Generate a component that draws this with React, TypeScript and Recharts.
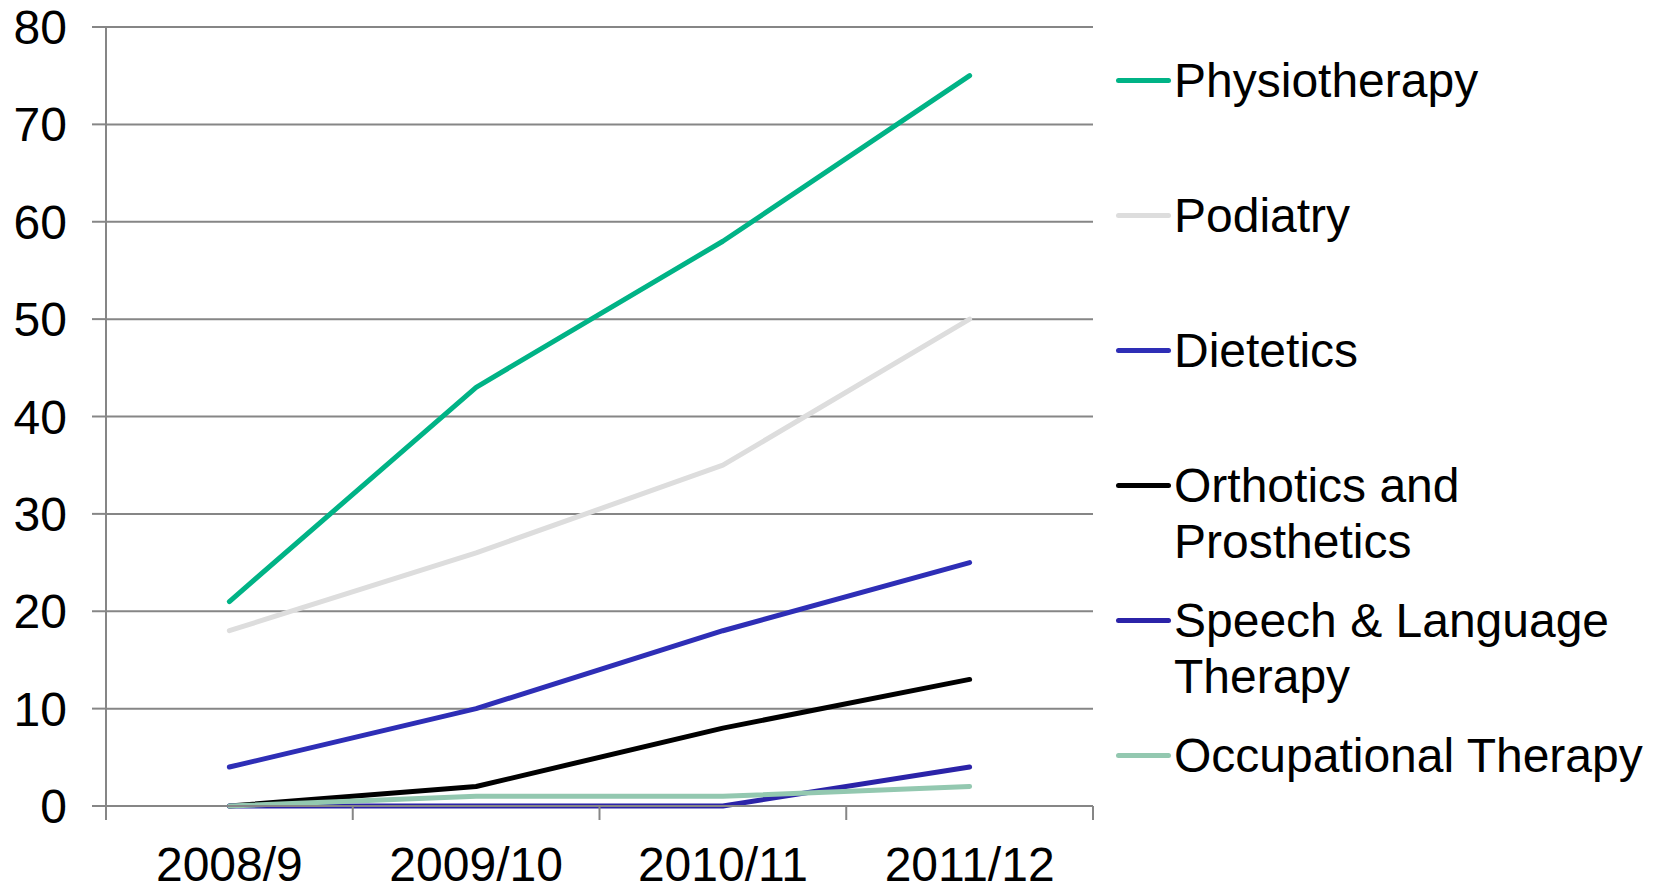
import { LineChart, Line, XAxis, YAxis, CartesianGrid, Legend } from 'recharts'

const years = ['2008/9', '2009/10', '2010/11', '2011/12']
const physiotherapy = [21, 43, 58, 75]
const podiatry = [18, 26, 35, 50]
const dietetics = [4, 10, 18, 25]
const orthotics = [0, 2, 8, 13]
const speechLanguage = [0, 0, 0, 4]
const occupational = [0, 1, 1, 2]
const yTicks = [0, 10, 20, 30, 40, 50, 60, 70, 80]

const series = [
  { key: 'physio', name: 'Physiotherapy', color: '#00b386', values: physiotherapy },
  { key: 'podiatry', name: 'Podiatry', color: '#dddddd', values: podiatry },
  { key: 'dietetics', name: 'Dietetics', color: '#2e2eb6', values: dietetics },
  { key: 'orthotics', name: 'Orthotics and Prosthetics', color: '#000000', values: orthotics },
  { key: 'speech', name: 'Speech & Language Therapy', color: '#2b23a8', values: speechLanguage },
  { key: 'occupational', name: 'Occupational Therapy', color: '#93c8b0', values: occupational },
]

const data = years.map((year, i) => {
  const row: Record<string, string | number> = { year }
  series.forEach((s) => {
    row[s.key] = s.values[i]
  })
  return row
})

const FONT = '"Liberation Sans", Arial, sans-serif'
const FONT_SIZE = 48
const GRID = '#868686'
const PLOT_LEFT = 106
const PLOT_RIGHT = 1093
const HALF_BAND = (PLOT_RIGHT - PLOT_LEFT) / years.length / 2

function YearTick(props: any) {
  const { x, y, payload, index } = props
  const axisY = y - 41
  return (
    <g>
      <line x1={x - HALF_BAND} x2={x - HALF_BAND} y1={axisY} y2={axisY + 14} stroke={GRID} strokeWidth={2} />
      {index === years.length - 1 && (
        <line x1={x + HALF_BAND} x2={x + HALF_BAND} y1={axisY} y2={axisY + 14} stroke={GRID} strokeWidth={2} />
      )}
      <text x={x} y={y} dy="0.71em" textAnchor="middle" fill="#000" fontSize={FONT_SIZE} fontFamily={FONT}>
        {payload.value}
      </text>
    </g>
  )
}

function SideLegend() {
  return (
    <div style={{ fontFamily: FONT, fontSize: FONT_SIZE, lineHeight: '56px', color: '#000' }}>
      {series.map((s) => (
        <div key={s.key} style={{ height: 135, display: 'flex', alignItems: 'flex-start' }}>
          <div
            style={{
              width: 55,
              height: 5,
              marginTop: 25,
              marginRight: 3,
              borderRadius: 3,
              background: s.color,
              flexShrink: 0,
            }}
          />
          <div style={{ width: 475 }}>{s.name}</div>
        </div>
      ))}
    </div>
  )
}

export default function App() {
  return (
    <div style={{ position: 'absolute', left: 0, top: 0, width: 1659, height: 885, overflow: 'hidden', background: '#fff' }}>
      <LineChart width={1659} height={885} data={data} margin={{ top: 27, right: 1659 - PLOT_RIGHT, bottom: 0, left: 0 }}>
        <CartesianGrid vertical={false} stroke={GRID} strokeWidth={2} />
        <XAxis
          dataKey="year"
          height={79}
          padding={{ left: HALF_BAND, right: HALF_BAND }}
          axisLine={{ stroke: GRID, strokeWidth: 2 }}
          tickLine={false}
          tickSize={14}
          tickMargin={27}
          tick={<YearTick />}
          interval={0}
        />
        <YAxis
          width={PLOT_LEFT}
          domain={[0, 80]}
          ticks={yTicks}
          interval={0}
          axisLine={{ stroke: GRID, strokeWidth: 2 }}
          tickLine={{ stroke: GRID, strokeWidth: 2 }}
          tickSize={14}
          tickMargin={25}
          tick={{ fill: '#000', fontSize: FONT_SIZE, fontFamily: FONT }}
        />
        <Legend
          layout="vertical"
          align="center"
          verticalAlign="middle"
          wrapperStyle={{ left: 1116, top: 53, width: 540 }}
          content={<SideLegend />}
        />
        {series.map((s) => (
          <Line
            key={s.key}
            type="linear"
            dataKey={s.key}
            name={s.name}
            stroke={s.color}
            strokeWidth={5}
            strokeLinecap="round"
            strokeLinejoin="round"
            dot={false}
            activeDot={false}
            isAnimationActive={false}
          />
        ))}
      </LineChart>
    </div>
  )
}
